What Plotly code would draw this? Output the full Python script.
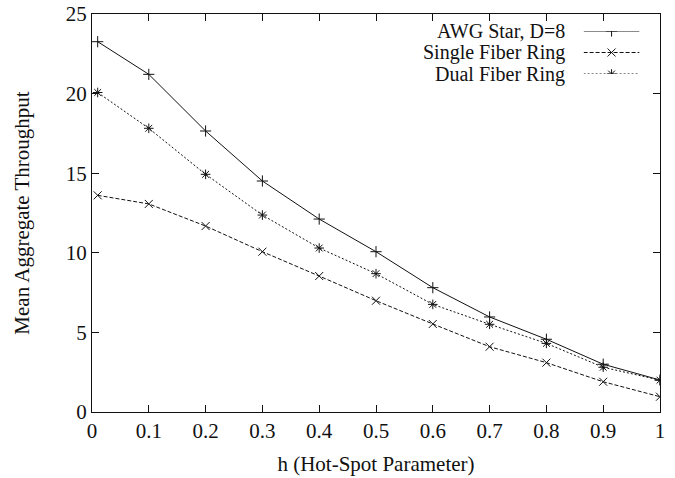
import plotly.graph_objects as go

# Hot-spot parameter values
h = [0.01, 0.1, 0.2, 0.3, 0.4, 0.5, 0.6, 0.7, 0.8, 0.9, 1.0]

# Mean aggregate throughput per network type
awg_star = [23.26, 21.21, 17.65, 14.51, 12.12, 10.07, 7.81, 5.97, 4.57, 3.00, 2.01]
single_ring = [13.61, 13.07, 11.68, 10.07, 8.54, 6.99, 5.53, 4.10, 3.10, 1.90, 0.96]
dual_ring = [20.07, 17.82, 14.93, 12.37, 10.30, 8.69, 6.76, 5.51, 4.31, 2.81, 2.00]

names = ["AWG Star, D=8", "Single Fiber Ring", "Dual Fiber Ring"]
series = [awg_star, single_ring, dual_ring]
dashes = ["solid", "4px,2px", "2px,2px"]
symbols = ["cross-thin-open", "x-thin-open", "asterisk-open"]

x_ticks = [0, 0.1, 0.2, 0.3, 0.4, 0.5, 0.6, 0.7, 0.8, 0.9, 1]
x_tick_text = ["0", "0.1", "0.2", "0.3", "0.4", "0.5", "0.6", "0.7", "0.8", "0.9", "1"]
y_ticks = [0, 5, 10, 15, 20, 25]

FONT = "Liberation Serif"
INK = "#111111"
MARKER = dict(size=8, color=INK, line=dict(color=INK, width=1))

fig = go.Figure()
for name, ys, dash, sym in zip(names, series, dashes, symbols):
    fig.add_trace(go.Scatter(
        x=h, y=ys, mode="lines+markers", name=name, showlegend=False,
        line=dict(color=INK, width=1, dash=dash),
        marker=dict(symbol=sym, **MARKER),
    ))

# Key drawn gnuplot-style: right-aligned labels with sample lines to the right
key_rows = [0.0, 1.0, 2.0]
for i, (name, dash, sym) in enumerate(zip(names, dashes, symbols)):
    fig.add_trace(go.Scatter(
        x=[0, 0.5, 1], y=[key_rows[i]] * 3, mode="lines",
        line=dict(color=INK, width=1, dash=dash),
        xaxis="x2", yaxis="y2", showlegend=False, hoverinfo="skip",
    ))
    fig.add_trace(go.Scatter(
        x=[0.5], y=[key_rows[i]], mode="markers",
        marker=dict(symbol=sym, **MARKER),
        xaxis="x2", yaxis="y2", showlegend=False, hoverinfo="skip",
    ))
    fig.add_annotation(
        x=0.8345, y=key_rows[i], xref="paper", yref="y2", text=name,
        xanchor="right", yanchor="middle", showarrow=False, borderpad=0,
        font=dict(family=FONT, size=20, color=INK),
    )

axis_common = dict(
    showgrid=False, zeroline=False, showline=True, linecolor=INK, linewidth=1,
    mirror="ticks", ticks="inside", ticklen=7, tickcolor=INK, tickwidth=1,
    tickfont=dict(family=FONT, size=21, color=INK), automargin=False,
)

fig.update_layout(
    width=675, height=478,
    margin=dict(l=92, r=15, t=14, b=66),
    paper_bgcolor="white", plot_bgcolor="white",
    xaxis=dict(range=[0, 1], tickvals=x_ticks, ticktext=x_tick_text,
               title=dict(text="h (Hot-Spot Parameter)", standoff=14,
                          font=dict(family=FONT, size=21, color=INK)),
               **axis_common),
    yaxis=dict(range=[0, 25], tickvals=y_ticks,
               title=dict(text="Mean Aggregate Throughput", standoff=30,
                          font=dict(family=FONT, size=21, color=INK)),
               **axis_common),
    xaxis2=dict(domain=[0.8655, 0.9640], range=[0, 1], visible=False, fixedrange=True),
    yaxis2=dict(domain=[0.8492, 0.9573], range=[2.0, 0.0], visible=False, fixedrange=True,
                anchor="x2"),
)

fig.write_html("out.html")
